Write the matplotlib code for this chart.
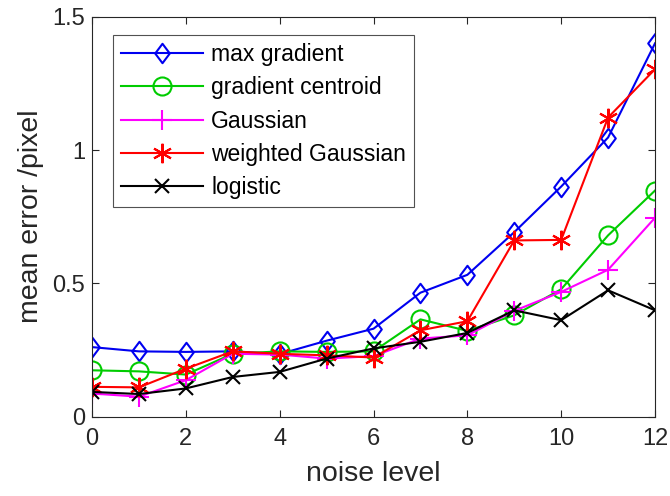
import numpy as np
import matplotlib
matplotlib.use("Agg")
import matplotlib.pyplot as plt
from matplotlib.path import Path

plt.rcParams['font.family'] = ['Liberation Sans', 'DejaVu Sans']

# data
noise = list(range(13))
max_gradient = [0.261, 0.245, 0.243, 0.245, 0.235, 0.285, 0.330, 0.465, 0.532,
                0.692, 0.863, 1.047, 1.400]
gradient_centroid = [0.174, 0.170, 0.158, 0.236, 0.245, 0.243, 0.245, 0.365, 0.322,
                     0.380, 0.478, 0.680, 0.848]
gaussian = [0.087, 0.075, 0.137, 0.236, 0.233, 0.218, 0.227, 0.293, 0.305,
            0.397, 0.468, 0.551, 0.746]
weighted_gaussian = [0.112, 0.110, 0.180, 0.245, 0.236, 0.230, 0.222, 0.324, 0.358,
                     0.661, 0.663, 1.122, 1.303]
logistic = [0.093, 0.085, 0.106, 0.149, 0.168, 0.218, 0.256, 0.281, 0.314,
            0.399, 0.362, 0.474, 0.399]

labels = ['max gradient', 'gradient centroid', 'Gaussian', 'weighted Gaussian', 'logistic']

# MATLAB-like diamond (taller than wide)
diamond = Path([(0, 1), (0.75, 0), (0, -1), (-0.75, 0), (0, 1)],
               [Path.MOVETO, Path.LINETO, Path.LINETO, Path.LINETO, Path.CLOSEPOLY])

fig = plt.figure(figsize=(6.7, 4.96), dpi=100)
ax = fig.add_axes([92 / 670, 1 - 416.7 / 496, 563 / 670, 400 / 496])

lw = 1.5
ax.plot(noise, max_gradient, color='#0000f0', lw=lw, marker=diamond, ms=14,
        mfc='none', mew=lw, label=labels[0])
ax.plot(noise, gradient_centroid, color='#00cc00', lw=lw, marker='o', ms=13,
        mfc='none', mew=lw, label=labels[1])
ax.plot(noise, gaussian, color='#ff00ff', lw=lw, marker='+', ms=15,
        mew=lw, label=labels[2])
ax.plot(noise, weighted_gaussian, color='#ff0000', lw=lw, marker=(6, 2, 0), ms=14,
        mew=lw, label=labels[3])
ax.plot(noise, logistic, color='#000000', lw=lw, marker='x', ms=10,
        mew=lw, label=labels[4])

ax.set_xlim(0, 12)
ax.set_ylim(0, 1.5)
ax.set_xticks(range(0, 13, 2))
ax.set_yticks([0, 0.5, 1, 1.5])
ax.set_yticklabels(['0', '0.5', '1', '1.5'])

axc = '#262626'
for s in ax.spines.values():
    s.set_color(axc)
    s.set_linewidth(0.8)
ax.tick_params(direction='in', top=True, right=True, length=5, width=0.8,
               colors=axc, labelsize=17, pad=5)
ax.tick_params(axis='x', pad=8)

ax.set_xlabel('noise level', fontsize=20.5, color=axc, labelpad=8)
ax.set_ylabel('mean error /pixel', fontsize=20.5, color=axc, labelpad=6)

leg = ax.legend(loc='upper left', bbox_to_anchor=(0.037, 0.954), fontsize=16.5,
                frameon=True, fancybox=False, handlelength=3.6, handletextpad=0.34,
                labelspacing=0.45, borderpad=0.35, borderaxespad=0)
leg.get_frame().set_edgecolor(axc)
leg.get_frame().set_linewidth(0.8)

fig.savefig('out.png', dpi=100)
